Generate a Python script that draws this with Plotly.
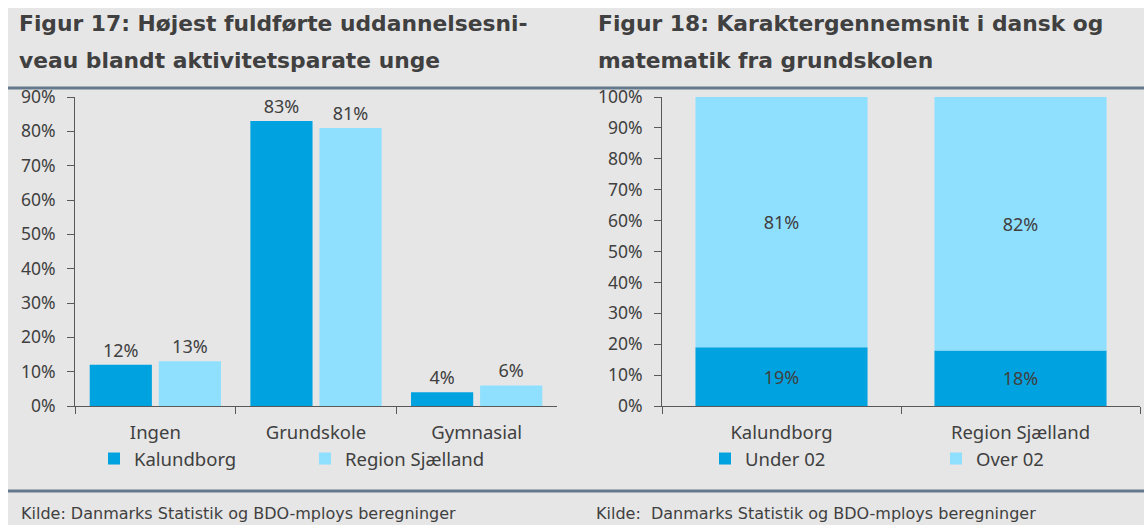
import plotly.graph_objects as go

# Figur 17 data
edu_levels = ["Ingen", "Grundskole", "Gymnasial"]
kalundborg_edu = [12, 83, 4]
region_edu = [13, 81, 6]

# Figur 18 data
areas = ["Kalundborg", "Region Sjælland"]
under_02 = [19, 18]
over_02 = [81, 82]

W, H = 1144, 525
DARK = "#404040"
BLUE = "#00a3e0"
LIGHT = "#8fdfff"
BG = "#e6e6e6"
RULE = "#647a8c"
FONT = "Noto Sans"
HEAD_FONT = "DejaVu Sans"


def px(x):
    return x / W


def py(y):
    return 1 - y / H


fig = go.Figure()

fig.add_trace(go.Bar(
    x=edu_levels, y=kalundborg_edu, name="Kalundborg",
    marker=dict(color=BLUE, line=dict(width=0)),
    text=[f"{v}%" for v in kalundborg_edu],
    textposition="outside", cliponaxis=False,
    textfont=dict(family=FONT, size=18, color=DARK),
    xaxis="x", yaxis="y", legend="legend",
))
fig.add_trace(go.Bar(
    x=edu_levels, y=region_edu, name="Region Sjælland",
    marker=dict(color=LIGHT, line=dict(width=0)),
    text=[f"{v}%" for v in region_edu],
    textposition="outside", cliponaxis=False,
    textfont=dict(family=FONT, size=18, color=DARK),
    xaxis="x", yaxis="y", legend="legend",
))
fig.add_trace(go.Bar(
    x=areas, y=under_02, name="Under 02", width=0.72,
    marker=dict(color=BLUE, line=dict(width=0)),
    text=[f"{v}%" for v in under_02],
    textposition="inside", insidetextanchor="middle",
    insidetextfont=dict(family=FONT, size=18, color=DARK),
    offsetgroup="s",
    xaxis="x2", yaxis="y2", legend="legend2",
))
fig.add_trace(go.Bar(
    x=areas, y=over_02, name="Over 02", base=under_02, width=0.72,
    marker=dict(color=LIGHT, line=dict(width=0)),
    text=[f"{v}%" for v in over_02],
    textposition="inside", insidetextanchor="middle",
    insidetextfont=dict(family=FONT, size=18, color=DARK),
    offsetgroup="s",
    xaxis="x2", yaxis="y2", legend="legend2",
))

axis_common = dict(
    showline=True, linecolor="#595959", linewidth=1,
    ticks="outside", ticklen=7, tickcolor="#595959",
    showgrid=False, zeroline=False, automargin=False,
)
x_common = dict(tickson="boundaries", ticklabelstandoff=10,
                tickfont=dict(family=FONT, size=18.5, color=DARK),
                **axis_common)
y_common = dict(dtick=10, ticksuffix="%", ticklabelstandoff=8,
                tickfont=dict(family=FONT, size=17.5, color=DARK),
                **axis_common)

legend_common = dict(
    orientation="h", xanchor="left", yanchor="top",
    bgcolor="rgba(0,0,0,0)", font=dict(family=FONT, size=18.5, color=DARK),
    entrywidthmode="pixels", itemwidth=30, traceorder="normal",
)

fig.update_layout(
    width=W, height=H,
    margin=dict(l=0, r=0, t=0, b=0, autoexpand=False),
    paper_bgcolor="white", plot_bgcolor="rgba(0,0,0,0)",
    font=dict(family=FONT, size=16, color=DARK),
    barmode="group",
    bargap=0.14, bargroupgap=0.1,
    uniformtext=dict(minsize=15, mode="show"),
    xaxis=dict(domain=[px(75), px(557)], anchor="y", **x_common),
    yaxis=dict(domain=[py(406), py(97)], anchor="x", range=[0, 90],
               **y_common),
    xaxis2=dict(domain=[px(662), px(1140)], anchor="y2", **x_common),
    yaxis2=dict(domain=[py(406), py(97)], anchor="x2", range=[0, 100],
                **y_common),
    legend=dict(x=px(94), y=py(440), entrywidth=166, **legend_common),
    legend2=dict(x=px(705), y=py(440), entrywidth=186, **legend_common),
)

shapes = [
    dict(type="rect", xref="paper", yref="paper", x0=px(8), x1=1, y0=0,
         y1=py(8), fillcolor=BG, line=dict(width=0), layer="below"),
    dict(type="line", xref="paper", yref="paper", x0=px(8), x1=1,
         y0=py(88), y1=py(88), line=dict(color=RULE, width=3)),
    dict(type="line", xref="paper", yref="paper", x0=px(8), x1=1,
         y0=py(491), y1=py(491), line=dict(color=RULE, width=3)),
]
fig.update_layout(shapes=shapes)

# Panel headings, one annotation per line
headings = [
    (18, 24, "Figur 17: Højest fuldførte uddannelsesni-"),
    (18, 60, "veau blandt aktivitetsparate unge"),
    (597, 24, "Figur 18: Karaktergennemsnit i dansk og"),
    (597, 60, "matematik fra grundskolen"),
]
for x, y, t in headings:
    fig.add_annotation(
        xref="paper", yref="paper", x=px(x), y=py(y), xanchor="left",
        yanchor="middle", align="left", showarrow=False, text=f"<b>{t}</b>",
        font=dict(family=HEAD_FONT, size=21.8, color=DARK), borderpad=0,
    )

sources = [
    (20, "Kilde: Danmarks Statistik og BDO-mploys beregninger"),
    (595, "Kilde:  Danmarks Statistik og BDO-mploys beregninger"),
]
for x, t in sources:
    fig.add_annotation(
        xref="paper", yref="paper", x=px(x), y=py(513), xanchor="left",
        yanchor="middle", showarrow=False, text=t, borderpad=0,
        font=dict(family=HEAD_FONT, size=16, color=DARK),
    )

fig.write_html("out.html")
